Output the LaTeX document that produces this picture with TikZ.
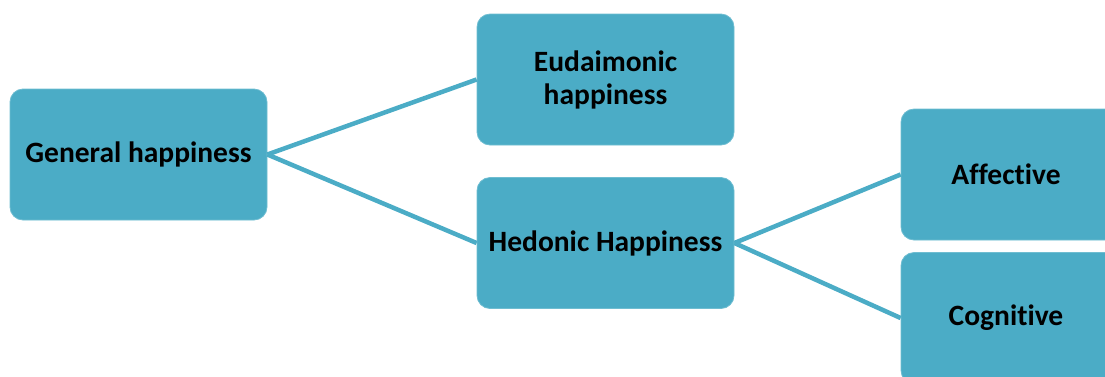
\documentclass[tikz,border=0pt]{standalone}
\usepackage{fontspec}
\setmainfont[Ligatures={NoCommon}]{Carlito}
\definecolor{boxblue}{HTML}{4BACC6}
\begin{document}
\begin{tikzpicture}[x=1pt,y=-1pt,
  hbox/.style={fill=boxblue, draw=boxblue!80!white, line width=0.8pt, rounded corners=13pt,
    minimum width=257pt, minimum height=131pt, inner sep=0pt, align=center,
    font=\fontsize{29.5pt}{33pt}\selectfont\bfseries, text=black},
  link/.style={draw=boxblue, line width=4.5pt}]
\useasboundingbox (0,0) rectangle (1105,376);
\clip (0,0) rectangle (1105,376);
\node[hbox] (G) at (138.5,154.5) {General happiness};
\node[hbox] (E) at (605.5,79.5) {Eudaimonic\\happiness};
\node[hbox] (H) at (605.5,243) {Hedonic Happiness};
\node[hbox] (A) at (1029.5,174.5) {\hspace*{-47pt}Affective};
\node[hbox] (C) at (1029.5,318) {\hspace*{-47pt}Cognitive};
\draw[link] (G.east) -- (E.west);
\draw[link] (G.east) -- (H.west);
\draw[link] (H.east) -- (A.west);
\draw[link] (H.east) -- (C.west);
\end{tikzpicture}
\end{document}
